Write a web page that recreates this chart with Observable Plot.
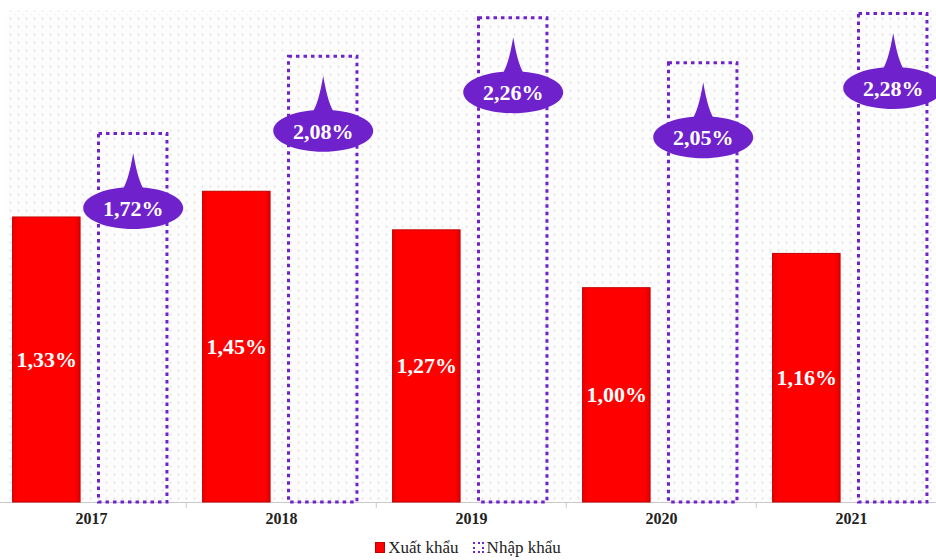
<!DOCTYPE html>
<html>
<head>
<meta charset="utf-8">
<script src="https://cdn.jsdelivr.net/npm/d3@7"></script>
<script src="https://cdn.jsdelivr.net/npm/@observablehq/plot@0.6"></script>
<style>
  html, body { margin: 0; padding: 0; background: #ffffff; }
  #chart { width: 936px; }
  .legend { height: 25px; display: flex; justify-content: center; align-items: center; font-family: "Liberation Serif", "Times New Roman", serif; font-size: 17px; color: #222; }
  .sw-red { display: inline-block; width: 8px; height: 9px; background: #ff0000; border: 1px solid #c00000; margin-right: 3px; }
  .sw-pur { display: inline-block; width: 7px; height: 7px; border: 2.5px dotted #6f22cc; margin-left: 14px; margin-right: 3px; }
</style>
</head>
<body>
<div id="chart"></div>
<div class="legend"><span class="sw-red"></span>Xuất khẩu<span class="sw-pur"></span>Nhập khẩu</div>
<script>
const years = ["2017", "2018", "2019", "2020", "2021"];
const exportValues = [1.33, 1.45, 1.27, 1.00, 1.16];
const importValues = [1.72, 2.08, 2.26, 2.05, 2.28];
const seriesNames = ["Xuất khẩu", "Nhập khẩu"];

const fmt = v => v.toFixed(2).replace(".", ",") + "%";
const data = years.map((y, i) => ({year: y, exp: exportValues[i], imp: importValues[i]}));

const W = 936, H = 535;
const xRange = [-5.5, 947];
const bw = (xRange[1] - xRange[0]) / years.length;
const red0 = 0.087 * bw, red1 = 0.444 * bw;
const pur0 = 0.538 * bw, pur1 = 0.900 * bw;
const redDx = (red0 + red1) / 2 - bw / 2;
const purDx = (pur0 + pur1) / 2 - bw / 2;
const baseY = 502, pxPerUnit = 214.3;

const RED = "#ff0000", PURPLE = "#6f22cc";
const serif = "'Liberation Serif', 'Times New Roman', serif";

const balloon = {
  draw(ctx, size) {
    const rx = Math.sqrt(size / Math.PI), ry = rx * 0.42, k = 0.5523;
    ctx.moveTo(rx, 0);
    ctx.bezierCurveTo(rx, ry * k, rx * k, ry, 0, ry);
    ctx.bezierCurveTo(-rx * k, ry, -rx, ry * k, -rx, 0);
    ctx.bezierCurveTo(-rx, -ry * k, -rx * k, -ry, 0, -ry);
    ctx.bezierCurveTo(rx * k, -ry, rx, -ry * k, rx, 0);
    ctx.closePath();
    ctx.moveTo(-0.24 * rx, -ry * 0.8);
    ctx.quadraticCurveTo(-0.1 * rx, -0.5 * rx, 0, -1.1 * rx);
    ctx.quadraticCurveTo(0.1 * rx, -0.5 * rx, 0.24 * rx, -ry * 0.8);
    ctx.closePath();
  }
};

const plot = Plot.plot({
  width: W,
  height: H,
  marginLeft: 0,
  marginRight: 0,
  marginTop: 0,
  marginBottom: H - baseY,
  style: {fontFamily: serif, background: "#ffffff", overflow: "visible"},
  x: {type: "band", domain: years, range: xRange, padding: 0, axis: null},
  y: {domain: [0, 2.3], range: [baseY, baseY - 2.3 * pxPerUnit], axis: null},
  marks: [
    Plot.frame({fill: "url(#dotpat)", stroke: "none", insetLeft: 7, insetTop: 10}),
    Plot.ruleY([0], {stroke: "#c9c9c9", strokeWidth: 1}),
    Plot.ruleX(years.slice(1), {x: d => d, y1: 0, y2: -0.028, dx: -bw / 2, stroke: "#c9c9c9"}),
    Plot.barY(data, {x: "year", y: "exp", fill: "url(#redgrad)", stroke: "#c40000", strokeWidth: 1,
      insetLeft: red0, insetRight: bw - red1}),
    Plot.barY(data, {x: "year", y: "imp", fill: "none", stroke: PURPLE, strokeWidth: 3,
      strokeDasharray: "3.5,4", insetLeft: pur0, insetRight: bw - pur1}),
    Plot.text(data, {x: "year", y: d => d.exp / 2, text: d => fmt(d.exp), dx: redDx,
      fill: "#ffffff", fontSize: 22, fontWeight: "bold", fontFamily: serif}),
    Plot.dot(data, {x: "year", y: "imp", symbol: balloon, r: 50, dx: purDx, dy: 74,
      fill: PURPLE, stroke: "none"}),
    Plot.text(data, {x: "year", y: "imp", text: d => fmt(d.imp), dx: purDx, dy: 75,
      fill: "#ffffff", fontSize: 22, fontWeight: "bold", fontFamily: serif}),
    Plot.axisX({tickSize: 0, tickPadding: 10, fontSize: 16, fontWeight: "bold", fontFamily: serif, label: null, color: "#222"})
  ]
});

const defs = `<defs>
  <pattern id="dotpat" width="8" height="8" patternUnits="userSpaceOnUse">
    <rect width="8" height="8" fill="#fdfdfd"/>
    <circle cx="2" cy="2" r="0.9" fill="#d9d9d9"/>
    <circle cx="6" cy="6" r="0.6" fill="#e6e6e6"/>
  </pattern>
  <linearGradient id="redgrad" x1="0" y1="0" x2="1" y2="0">
    <stop offset="0" stop-color="#e80000"/>
    <stop offset="0.08" stop-color="#ff0000"/>
    <stop offset="0.92" stop-color="#ff0000"/>
    <stop offset="1" stop-color="#e00000"/>
  </linearGradient>
</defs>`;
plot.insertAdjacentHTML("afterbegin", defs);
document.getElementById("chart").appendChild(plot);
</script>
</body>
</html>
